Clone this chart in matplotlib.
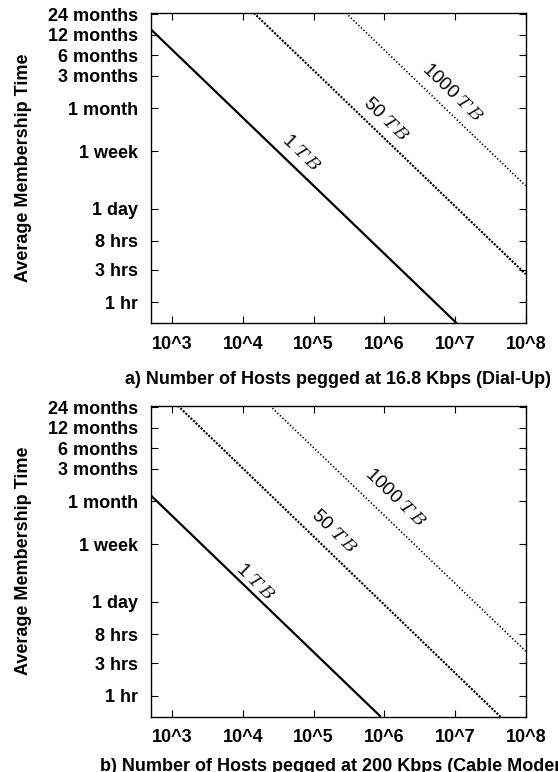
import matplotlib
matplotlib.use("Agg")
import matplotlib.pyplot as plt
import numpy as np

plt.rcParams['font.family'] = ['Liberation Sans', 'DejaVu Sans']
plt.rcParams['mathtext.fontset'] = 'cm'

# ---- data ----
size_labels = ["1 TB", "50 TB", "1000 TB"]
# panel a (16.8 Kbps, Dial-Up): line end points (hosts, hours)
hosts_a = [[500, 1.06e7], [14250, 1e8], [2.85e5, 1e8]]
hours_a = [[10400, 0.49], [18200, 2.6], [18200, 52]]
# panel b (200 Kbps, Cable Modem)
hosts_b = [[500, 8.9e5], [1200, 4.4e7], [24000, 1e8]]
hours_b = [[870, 0.49], [18200, 0.49], [18200, 4.5]]

ytick_hours = [1, 3, 8, 24, 168, 720, 2160, 4320, 8640, 17280]
ytick_labels = ["1 hr", "3 hrs", "8 hrs", "1 day", "1 week", "1 month",
                "3 months", "6 months", "12 months", "24 months"]
xtick_hosts = [1e3, 1e4, 1e5, 1e6, 1e7, 1e8]
xtick_labels = ["10^3", "10^4", "10^5", "10^6", "10^7", "10^8"]

xlabels = ["a) Number of Hosts pegged at 16.8 Kbps (Dial-Up)",
           "b) Number of Hosts pegged at 200 Kbps (Cable Modem)"]
ylabel = "Average Membership Time"

# label positions (axes fraction)
label_pos_a = [(0.400, 0.548), (0.626, 0.655), (0.804, 0.741)]
label_pos_b = [(0.278, 0.434), (0.488, 0.595), (0.653, 0.702)]

styles = [dict(ls='-', lw=1.6),
          dict(ls=(0, (1.0, 0.7)), lw=1.5),
          dict(ls=(0, (0.8, 1.3)), lw=1.2)]

fig = plt.figure(figsize=(5.58, 7.72), dpi=100)
ax_a = fig.add_axes([0.2706, 0.5812, 0.6715, 0.4020])
ax_b = fig.add_axes([0.2706, 0.0716, 0.6715, 0.4029])

FS = 13
xlabel_y = [-0.180, -0.160]
for ax, hs, ts, lp, xl, xly in [(ax_a, hosts_a, hours_a, label_pos_a, xlabels[0], xlabel_y[0]),
                                (ax_b, hosts_b, hours_b, label_pos_b, xlabels[1], xlabel_y[1])]:
    for h, t, st, lab, pos in zip(hs, ts, styles, size_labels, lp):
        ax.plot(h, t, color='black', solid_capstyle='butt', dash_capstyle='butt', **st)
        num, unit = lab.split()
        ax.text(pos[0], pos[1], num + r" $T\,B$", transform=ax.transAxes,
                rotation=-43.8, ha='center', va='center', fontsize=13.5,
                rotation_mode='anchor')
    ax.set_xscale('log')
    ax.set_yscale('log')
    ax.set_xlim(500, 1e8)
    ax.set_ylim(0.49, 18200)
    ax.set_xticks(xtick_hosts)
    ax.set_xticklabels(xtick_labels, fontweight='bold', fontsize=FS)
    ax.set_yticks(ytick_hours)
    ax.set_yticklabels(ytick_labels, fontweight='bold', fontsize=FS)
    ax.minorticks_off()
    ax.tick_params(direction='in', length=5, width=0.8, top=True, right=True, pad=9)
    for s in ax.spines.values():
        s.set_linewidth(1.0)
    ax.set_xlabel(xl, fontweight='bold', fontsize=FS, va='center')
    ax.xaxis.set_label_coords(0.5, xly)
    ax.set_ylabel(ylabel, fontweight='bold', fontsize=FS, va='center')
    ax.yaxis.set_label_coords(-0.34, 0.5)

fig.savefig("out.png", dpi=100)
